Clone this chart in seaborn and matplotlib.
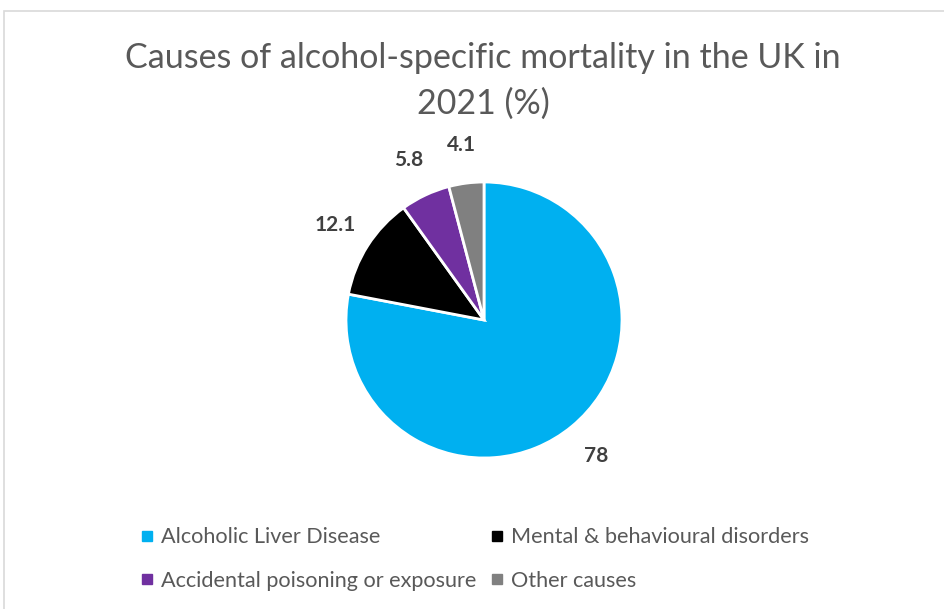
import matplotlib
matplotlib.use("Agg")
import matplotlib.pyplot as plt
from matplotlib.lines import Line2D
from matplotlib.patches import Rectangle
import seaborn as sns

sns.set_theme(style="white")
plt.rcParams["font.family"] = ["Lato", "DejaVu Sans"]

causes = ["Alcoholic Liver Disease", "Mental & behavioural disorders",
          "Accidental poisoning or exposure", "Other causes"]
shares = [78, 12.1, 5.8, 4.1]
value_labels = ["78", "12.1", "5.8", "4.1"]
colors = ["#00B0F0", "#000000", "#7030A0", "#808080"]
title = "Causes of alcohol-specific mortality in the UK in\n2021 (%)"

W, H = 945, 609
fig = plt.figure(figsize=(W / 100, H / 100), dpi=100)
fig.patch.set_facecolor("white")

# chart frame
fig.add_artist(Rectangle((4 / W, -0.1), 1.2, (H - 11) / H + 0.1, transform=fig.transFigure,
                         fill=False, edgecolor="#D9D9D9", linewidth=1.2))

cx, cy, r = 484, 320, 138
ax = fig.add_axes([(cx - r) / W, (H - cy - r) / H, 2 * r / W, 2 * r / H])
wedges, texts = ax.pie(shares, labels=value_labels, colors=colors, startangle=90,
                       counterclock=False, labeldistance=1.28, radius=1,
                       wedgeprops=dict(edgecolor="white", linewidth=2),
                       textprops=dict(fontsize=15, fontweight="bold", color="#404040"))
for t in texts:
    t.set_ha("center")
    t.set_va("center")
ax.set_xlim(-1, 1)
ax.set_ylim(-1, 1)
ax.set_aspect("equal")
ax.axis("off")

fig.text(0.511, 1 - 81 / H, title, ha="center", va="center", fontsize=24.5,
         color="#595959", linespacing=1.55)

# legend entries run across the rows: fill columns in row-major order
order = [0, 2, 1, 3]
handles = [Line2D([0], [0], marker="s", linestyle="", markersize=7,
                  markerfacecolor=colors[i], markeredgecolor=colors[i]) for i in order]
labels = [causes[i] for i in order]
leg = fig.legend(handles, labels, ncol=2, loc="center", bbox_to_anchor=(0.501, 1 - 559 / H),
                 frameon=False, fontsize=15.6, labelcolor="#595959", handletextpad=0.2,
                 columnspacing=0.5, labelspacing=1.08, handlelength=0.9)

fig.savefig("out.png", dpi=100, facecolor="white")
